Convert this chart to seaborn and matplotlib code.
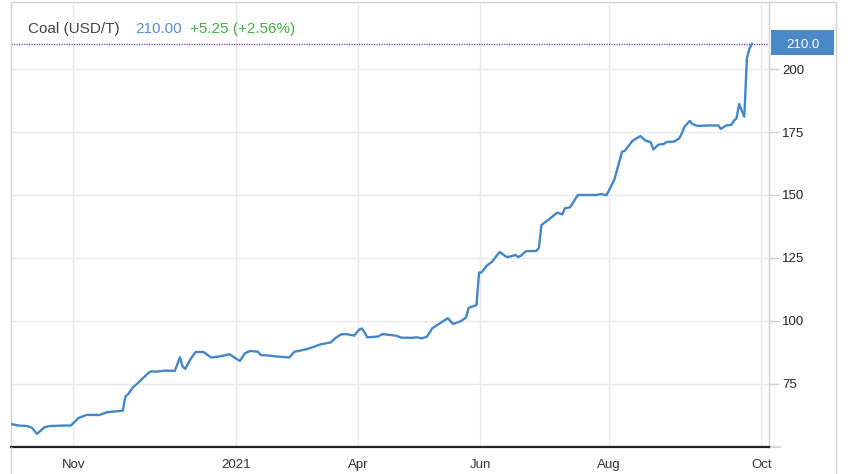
import numpy as np
import pandas as pd
import matplotlib
matplotlib.use('Agg')
import matplotlib.pyplot as plt
import matplotlib.transforms as mtransforms
from matplotlib.patches import Rectangle
import seaborn as sns

# trading session index (Sep 2020 -> end Sep 2021) and coal price, USD/T
session = [0, 3, 6, 8, 10, 13, 15, 20, 23, 26, 29, 34, 37, 43, 44, 45, 47, 48,
           53, 54, 56, 59, 63, 65, 66, 67, 69, 71, 74, 77, 80, 84, 88, 90, 92,
           95, 96, 100, 102, 105, 107, 109, 111, 114, 116, 119, 121, 123, 125,
           127, 129, 132, 134, 135, 136, 137, 141, 143, 146, 148, 150, 154, 156,
           158, 160, 162, 165, 168, 170, 173, 175, 176, 179, 180, 181, 183, 185,
           187, 188, 190, 191, 194, 195, 196, 198, 202, 203, 204, 207, 210, 212,
           213, 215, 218, 220, 225, 227, 229, 232, 235, 236, 239, 242, 244, 246,
           247, 249, 251, 252, 255, 257, 258, 259, 261, 262, 264, 268, 272, 273,
           275, 277, 278, 279, 280, 282, 283, 284, 285]
price = [59.1, 58.5, 58.3, 57.7, 55.2, 57.9, 58.3, 58.5, 58.5, 61.5, 62.7, 62.7,
         63.8, 64.4, 70.0, 70.9, 73.8, 74.6, 79.5, 80.0, 79.9, 80.3, 80.2, 85.6,
         81.9, 81.0, 84.8, 87.7, 87.7, 85.5, 85.9, 86.8, 84.1, 87.2, 88.1, 87.8,
         86.5, 86.2, 85.9, 85.7, 85.5, 87.8, 88.2, 88.9, 89.6, 90.7, 91.1, 91.5,
         93.4, 94.7, 94.8, 94.2, 96.7, 97.0, 95.4, 93.5, 93.8, 94.8, 94.4, 94.2,
         93.4, 93.3, 93.5, 93.1, 93.8, 97.1, 99.1, 101.1, 98.8, 99.9, 101.4,
         105.2, 106.3, 119.2, 119.3, 122.0, 123.5, 126.2, 127.4, 125.8, 125.3,
         126.2, 125.4, 125.8, 127.7, 127.8, 129.0, 138.1, 140.4, 143.0, 142.3,
         144.7, 145.1, 150.0, 150.0, 150.0, 150.4, 149.9, 156.0, 167.2, 167.5,
         171.5, 173.4, 171.6, 171.0, 168.1, 170.0, 170.2, 171.0, 171.2, 172.5,
         174.5, 177.1, 179.4, 178.2, 177.4, 177.6, 177.6, 176.2, 177.6, 177.8,
         179.5, 180.4, 186.1, 181.1, 204.2, 208.2, 210.0]

tick_sessions = [24, 86.5, 133.5, 180.4, 230, 288.5]
tick_labels = ['Nov', '2021', 'Apr', 'Jun', 'Aug', 'Oct']
y_ticks = [75, 100, 125, 150, 175, 200]
last_price = 210.0
change = 5.25
change_pct = 2.56

sns.set_style('white')
plt.rcParams['font.family'] = ['Liberation Sans', 'DejaVu Sans']

coal = pd.DataFrame({'session': session, 'price': price})

W, H = 854, 474
fig = plt.figure(figsize=(W / 100, H / 100), dpi=100)
ax = fig.add_axes([11.5 / W, 1 - 446.7 / H, (769 - 11.5) / W, (446.7 - 2) / H])

sns.lineplot(data=coal, x='session', y='price', color='#4587c6',
             linewidth=1.7, ax=ax, zorder=3)

ax.set_xlim(0.2, 291.5)
ax.set_ylim(50.1, 226.6)
ax.set_xlabel('')
ax.set_ylabel('')

ax.set_xticks(tick_sessions)
ax.set_xticklabels(tick_labels)
ax.set_yticks(y_ticks)
ax.yaxis.tick_right()
ax.grid(True, color='#e9e9e9', linewidth=1)
ax.tick_params(axis='x', length=0, pad=8.5, labelsize=9.5, labelcolor='#333333')
ax.tick_params(axis='y', length=7.5, width=1, color='#d0d0d0', pad=2,
               labelsize=9.5, labelcolor='#222222')

for side in ['left', 'top', 'right']:
    ax.spines[side].set_color('#d4d4d4')
    ax.spines[side].set_linewidth(1)
ax.spines['bottom'].set_color('#222222')
ax.spines['bottom'].set_linewidth(1.6)

# last value marker line and box
ax.axhline(last_price, color='#4a4ac8', linestyle=(0, (1, 1)), linewidth=0.9, zorder=2)
blend = mtransforms.blended_transform_factory(ax.transAxes, ax.transData)
ax.add_patch(Rectangle((1.0026, last_price - 4.6), 0.0832, 9.9, transform=blend,
                       facecolor='#4a88c8', edgecolor='none', clip_on=False))
ax.text(1.0442, last_price - 0.5, f'{last_price:.1f}', transform=blend, ha='center',
        va='center', color='white', fontsize=9.5)
ax.plot([1, 1.0145], [0, 0], transform=ax.transAxes, color='#d8d8d8',
        linewidth=1.6, clip_on=False)

# widget frame
fig.add_artist(plt.Line2D([769 / W, 835.7 / W], [1 - 2 / H, 1 - 2 / H],
                          color='#d4d4d4', linewidth=1))
fig.add_artist(plt.Line2D([835.7 / W, 835.7 / W], [0, 1 - 2 / H],
                          color='#d4d4d4', linewidth=1))
fig.add_artist(plt.Line2D([11.5 / W, 11.5 / W], [0, 1 - 446.7 / H],
                          color='#d4d4d4', linewidth=1))

# header
hy = 1 - 29 / H
fig.text(28 / W, hy, 'Coal (USD/T)', color='#444444', fontsize=11, va='center')
fig.text(135 / W, hy, f'{last_price:.2f}', color='#5a8fcf', fontsize=11, va='center')
fig.text(190.5 / W, hy, f'+{change:.2f} (+{change_pct:.2f}%)', color='#45b045',
         fontsize=11, va='center')

fig.savefig('out.png', dpi=100, facecolor='white')
